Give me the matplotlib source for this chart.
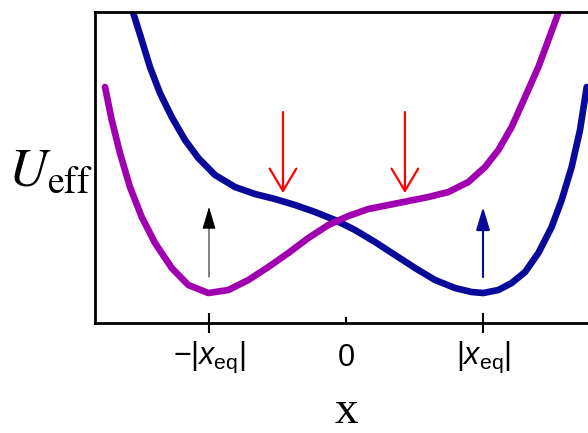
import matplotlib
matplotlib.use('Agg')
import matplotlib.pyplot as plt

plt.rcParams['mathtext.fontset'] = 'custom'
plt.rcParams['mathtext.rm'] = 'Liberation Sans'
plt.rcParams['mathtext.it'] = 'Liberation Sans:italic'

# curves (x in units of |x_eq|, U in arbitrary units)
blue_x = [-1.553, -1.491, -1.431, -1.358, -1.272, -1.175, -1.078, -0.956, -0.810, -0.664,
          -0.518, -0.372, -0.226, -0.080, 0.066, 0.212, 0.358, 0.504, 0.650, 0.796,
          0.917, 1.002, 1.112, 1.209, 1.307, 1.404, 1.501, 1.574, 1.647, 1.708, 1.757]
blue_u = [3.10, 2.83, 2.56, 2.30, 2.06, 1.83, 1.65, 1.48, 1.36, 1.29,
          1.24, 1.18, 1.11, 1.03, 0.93, 0.81, 0.68, 0.55, 0.43, 0.35,
          0.31, 0.30, 0.33, 0.40, 0.51, 0.70, 0.96, 1.23, 1.56, 1.93, 2.36]

purple_x = [-1.759, -1.710, -1.650, -1.577, -1.491, -1.394, -1.272, -1.151, -1.005, -0.859,
            -0.713, -0.567, -0.421, -0.275, -0.129, 0.017, 0.163, 0.309, 0.455, 0.601,
            0.747, 0.893, 1.015, 1.112, 1.209, 1.307, 1.404, 1.477, 1.550]
purple_u = [2.36, 2.03, 1.70, 1.36, 1.06, 0.80, 0.55, 0.38, 0.30, 0.33,
            0.43, 0.56, 0.70, 0.85, 0.98, 1.07, 1.14, 1.18, 1.22, 1.26,
            1.31, 1.41, 1.56, 1.73, 1.96, 2.26, 2.56, 2.83, 3.10]

# red arrows (shoulders) and the two small up arrows at the minima
red_x = [-0.46, 0.43]
red_tail, red_tip = 2.11, 1.30
up_x = [-1.0, 1.0]
up_tail, up_tip = 0.46, 1.16
up_colors = ['black', '#0a0a9a']

tick_pos = [-1, 1]
tick_labels = [r'$-|x_{\rm eq}|$', r'$|x_{\rm eq}|$']

fig = plt.figure(figsize=(5.88, 4.33), dpi=100)
ax = fig.add_axes([0.1616, 0.254, 0.8537, 0.7182])

ax.plot(blue_x, blue_u, color='#0a0a9a', lw=4.8,
        solid_capstyle='round', solid_joinstyle='round')
ax.plot(purple_x, purple_u, color='#a000b0', lw=4.8,
        solid_capstyle='round', solid_joinstyle='round')

for xr in red_x:
    ax.annotate('', xy=(xr, red_tip), xytext=(xr, red_tail),
                arrowprops=dict(arrowstyle='->,head_length=0.8,head_width=0.48',
                                color='red', lw=1.6, shrinkA=0, shrinkB=0,
                                mutation_scale=20))

for xu, c, lw in zip(up_x, up_colors, [0.7, 1.5]):
    ax.annotate('', xy=(xu, up_tip), xytext=(xu, up_tail),
                arrowprops=dict(arrowstyle='-|>,head_length=0.7,head_width=0.21',
                                color=c, lw=lw, shrinkA=0, shrinkB=0,
                                mutation_scale=20))

ax.set_xlim(-1.832, 1.832)
ax.set_ylim(0, 3.11)
ax.set_yticks([])
ax.set_xticks(tick_pos, labels=tick_labels)
ax.set_xticks([0], labels=[r'$0$'], minor=True)
ax.tick_params(axis='x', which='major', direction='inout', length=14, width=1.5,
               pad=5, labelsize=22)
ax.tick_params(axis='x', which='minor', direction='in', length=4, width=1.5,
               pad=14.5, labelsize=22)
for s in ax.spines.values():
    s.set_linewidth(2)

ax.set_ylabel(r'$U_{\rm eff}$', rotation=0, fontsize=39, math_fontfamily='stix',
              ha='right', va='center')
ax.yaxis.set_label_coords(-0.004, 0.49)

fig.text(346 / 588, 0.0, 'x', fontsize=34, family='Liberation Serif',
         ha='center', va='bottom')

fig.savefig('out.png', dpi=100)
